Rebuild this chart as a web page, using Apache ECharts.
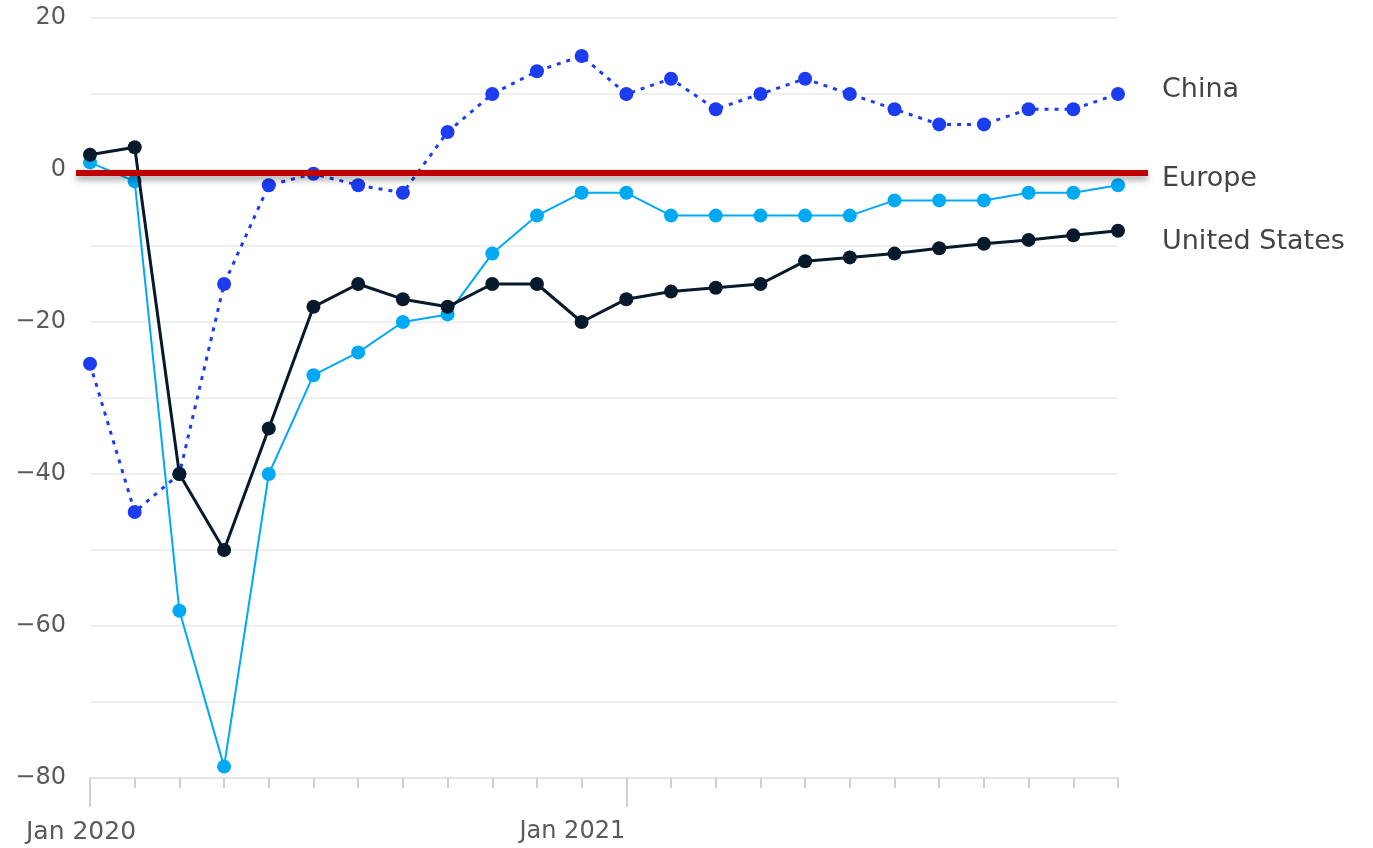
<!DOCTYPE html>
<html>
<head>
<meta charset="utf-8">
<script src="https://cdn.jsdelivr.net/npm/echarts@6/dist/echarts.min.js"></script>
<style>
  html, body { margin: 0; padding: 0; background: #ffffff; }
  #chart { width: 1373px; height: 848px; }
</style>
</head>
<body>
<div id="chart"></div>
<script>
// months Jan 2020 .. Dec 2021
const months = [
  'Jan 2020', 'Feb 2020', 'Mar 2020', 'Apr 2020', 'May 2020', 'Jun 2020',
  'Jul 2020', 'Aug 2020', 'Sep 2020', 'Oct 2020', 'Nov 2020', 'Dec 2020',
  'Jan 2021', 'Feb 2021', 'Mar 2021', 'Apr 2021', 'May 2021', 'Jun 2021',
  'Jul 2021', 'Aug 2021', 'Sep 2021', 'Oct 2021', 'Nov 2021', 'Dec 2021'
];
const tickLabels = ['Jan 2020', 'Jan 2021'];

const chinaValues = [-25.5, -45, -40, -15, -2, -0.5, -2, -3, 5, 10, 13, 15,
  10, 12, 8, 10, 12, 10, 8, 6, 6, 8, 8, 10];
const europeValues = [1, -1.5, -58, -78.5, -40, -27, -24, -20, -19, -11, -6, -3,
  -3, -6, -6, -6, -6, -6, -4, -4, -4, -3, -3, -2];
const usValues = [2, 3, -40, -50, -34, -18, -15, -17, -18, -15, -15, -20,
  -17, -16, -15.5, -15, -12, -11.5, -11, -10.3, -9.7, -9.2, -8.6, -8];

// reference line (drawn slightly under zero in the original)
const refLineValue = -0.4;

const fontFamily = '"DejaVu Sans", "Liberation Sans", Arial, sans-serif';
const labelColor = '#5a5a5a';

const myChart = echarts.init(document.getElementById('chart'));

const endLabel = (dy) => ({
  show: true,
  formatter: '{a}',
  distance: 44,
  offset: [0, dy],
  color: '#444444',
  fontFamily: fontFamily,
  fontSize: 27
});

const option = {
  backgroundColor: '#ffffff',
  animation: false,
  grid: { left: 90, right: 255, top: 18, bottom: 70 },
  xAxis: [
    {
      type: 'category',
      data: months,
      boundaryGap: false,
      axisLine: { onZero: false, lineStyle: { color: '#e4e4e4', width: 2 } },
      axisTick: { show: true, interval: 0, length: 10, lineStyle: { color: '#d0d0d0', width: 2 } },
      axisLabel: { show: false },
      splitLine: { show: false }
    },
    {
      type: 'category',
      data: months,
      boundaryGap: false,
      position: 'bottom',
      axisLine: { show: false, onZero: false },
      axisTick: {
        show: true,
        length: 29,
        interval: (idx, val) => tickLabels.includes(val),
        lineStyle: { color: '#d0d0d0', width: 2 }
      },
      axisLabel: {
        show: true,
        interval: (idx, val) => tickLabels.includes(val),
        margin: 42,
        formatter: (val) => val === 'Jan 2020' ? '{a|' + val + '}' : '{b|' + val + '}',
        rich: {
          a: { color: labelColor, fontFamily: fontFamily, fontSize: 25, padding: [0, 18, 0, 0] },
          b: { color: labelColor, fontFamily: fontFamily, fontSize: 24, padding: [0, 108, 0, 0] }
        }
      },
      splitLine: { show: false }
    }
  ],
  yAxis: {
    type: 'value',
    min: -80,
    max: 20,
    interval: 10,
    axisLine: { show: false },
    axisTick: { show: false },
    axisLabel: {
      color: labelColor,
      fontFamily: fontFamily,
      fontSize: 24,
      margin: 24,
      formatter: (v) => v % 20 !== 0 ? '' : (v < 0 ? '\u2212' + Math.abs(v) : String(v))
    },
    splitLine: { lineStyle: { color: '#efefef', width: 2 } }
  },
  series: [
    {
      name: 'China',
      type: 'line',
      data: chinaValues,
      symbol: 'circle',
      symbolSize: 14,
      itemStyle: { color: '#1c3cf0' },
      lineStyle: { color: '#1c3cf0', width: 3, type: [4, 6] },
      endLabel: endLabel(-4),
      z: 2
    },
    {
      name: 'Europe',
      type: 'line',
      data: europeValues,
      symbol: 'circle',
      symbolSize: 14,
      itemStyle: { color: '#00a9f4' },
      lineStyle: { color: '#00a9f4', width: 2 },
      endLabel: endLabel(-6),
      z: 3
    },
    {
      name: 'United States',
      type: 'line',
      data: usValues,
      symbol: 'circle',
      symbolSize: 14,
      itemStyle: { color: '#061a2b' },
      lineStyle: { color: '#061a2b', width: 3 },
      endLabel: endLabel(11),
      z: 4
    }
  ]
};

myChart.setOption(option);

// red reference line, placed through the chart's own scales
const yRef = myChart.convertToPixel({ yAxisIndex: 0 }, refLineValue);
const xFirst = myChart.convertToPixel({ xAxisIndex: 0 }, months[0]);
const xLast = myChart.convertToPixel({ xAxisIndex: 0 }, months[months.length - 1]);

myChart.setOption({
  graphic: [
    {
      type: 'line',
      shape: { x1: xFirst - 14, y1: yRef, x2: xLast + 30, y2: yRef },
      style: {
        stroke: '#c00000',
        lineWidth: 6,
        shadowBlur: 6,
        shadowOffsetY: 4,
        shadowColor: 'rgba(0,0,0,0.35)'
      },
      z: 100
    }
  ]
});
</script>
</body>
</html>
